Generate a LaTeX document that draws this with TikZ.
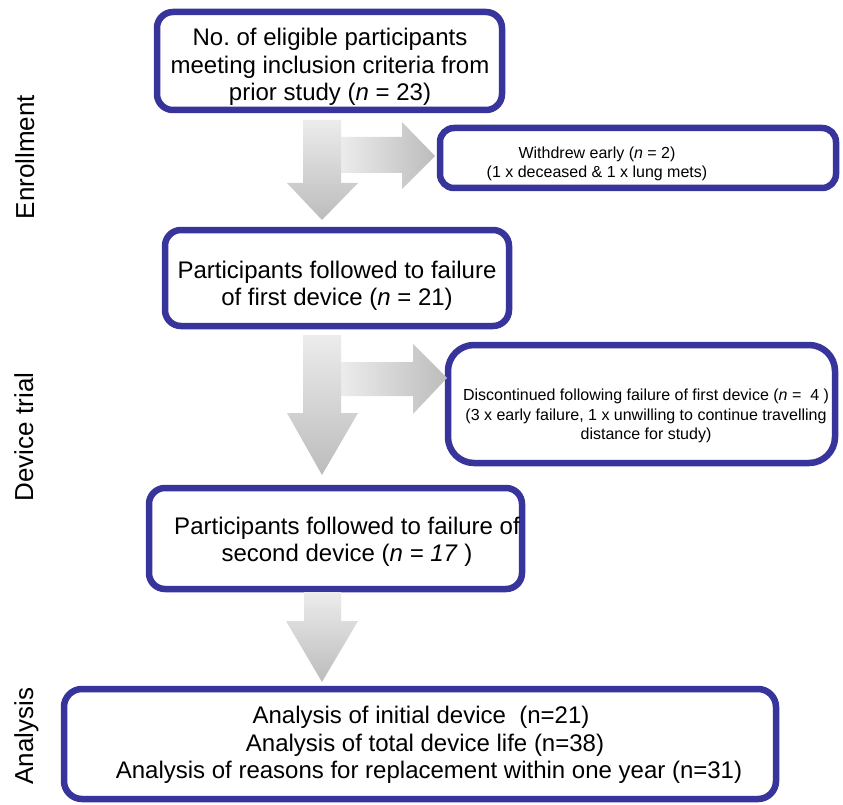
\documentclass[tikz,border=0pt]{standalone}
\usepackage{fontspec}
\setmainfont{Liberation Sans}
\frenchspacing
\definecolor{boxblue}{RGB}{55,52,155}
\definecolor{arrlight}{RGB}{236,236,236}
\definecolor{arrdark}{RGB}{188,188,188}
\begin{document}
\begin{tikzpicture}[x=1pt,y=-1pt,
  box/.style={draw=boxblue, line width=6.5pt, rounded corners=16pt, inner sep=0pt, fill=white},
  txt/.style={inner sep=0pt, align=center},
  big/.style={font=\fontsize{24}{27.5}\selectfont},
  small/.style={font=\fontsize{16}{19.5}\selectfont},
  side/.style={font=\fontsize{26}{30}\selectfont, rotate=90, inner sep=0pt, anchor=base}]
\useasboundingbox (0,0) rectangle (843,805);

% side labels
\node[side] (lenr) at (34,157) {Enrollment};
\node[side] (ldev) at (33,437) {Device trial};
\node[side] (lana) at (33,736) {Analysis};

% boxes
\node[box, minimum width=345pt, minimum height=98pt] (b1) at (329.5,61) {};
\node[txt, big] (t1) at (330,67) {No. of eligible participants\\meeting inclusion criteria from\\prior study (\textit{n} = 23)};

\node[box, minimum width=396pt, minimum height=60pt, rounded corners=14pt] (b2) at (638,158) {};
\node[txt, small] (t2) at (597,164) {Withdrew early (\textit{n} = 2)\\(1 x deceased \& 1 x lung mets)};

\node[box, minimum width=344pt, minimum height=96pt] (b3) at (337,278) {};
\node[txt, big] (t3) at (337,286) {Participants followed to failure\\of first device (\textit{n} = 21)};

\node[box, minimum width=387pt, minimum height=118pt, rounded corners=26pt] (b4) at (641.5,404) {};
\node[txt, small] (t4) at (646,416) {Discontinued following failure of first device (\textit{n} =~~4 )\\(3 x early failure, 1 x unwilling to continue travelling\\distance for study)};

\node[box, minimum width=373pt, minimum height=101pt] (b5) at (335.5,538.5) {};
\node[txt, big] (t5) at (347,542) {Participants followed to failure of\\second device (\textit{n = 17} )};

\node[box, minimum width=712pt, minimum height=110pt, rounded corners=18pt] (b6) at (420,744) {};
\node[txt, big] (t6) at (425,745) {Analysis of initial device~~(n=21)\hspace*{8pt}\\Analysis of total device life (n=38)\hspace*{8pt}\\\hspace*{8pt}Analysis of reasons for replacement within one year (n=31)};

% block arrows, group 1
\shade[left color=arrlight, right color=arrdark]
  (341,137) -- (402,137) -- (402,122) -- (435,156) -- (402,189) -- (402,173) -- (341,173) -- cycle;
\shade[top color=arrlight, bottom color=arrdark]
  (303,120) -- (341,120) -- (341,183) -- (358,183) -- (322,220) -- (287,183) -- (303,183) -- cycle;

% block arrows, group 2
\shade[left color=arrlight, right color=arrdark]
  (341,362) -- (413,362) -- (413,344) -- (447,378) -- (413,414) -- (413,396) -- (341,396) -- cycle;
\shade[top color=arrlight, bottom color=arrdark]
  (303,335) -- (341,335) -- (341,413) -- (358,413) -- (322,475) -- (287,413) -- (303,413) -- cycle;

% block arrow 3
\shade[top color=arrlight, bottom color=arrdark]
  (304,592) -- (341,592) -- (341,621) -- (358,621) -- (322,682) -- (286,621) -- (304,621) -- cycle;
\end{tikzpicture}
\end{document}
